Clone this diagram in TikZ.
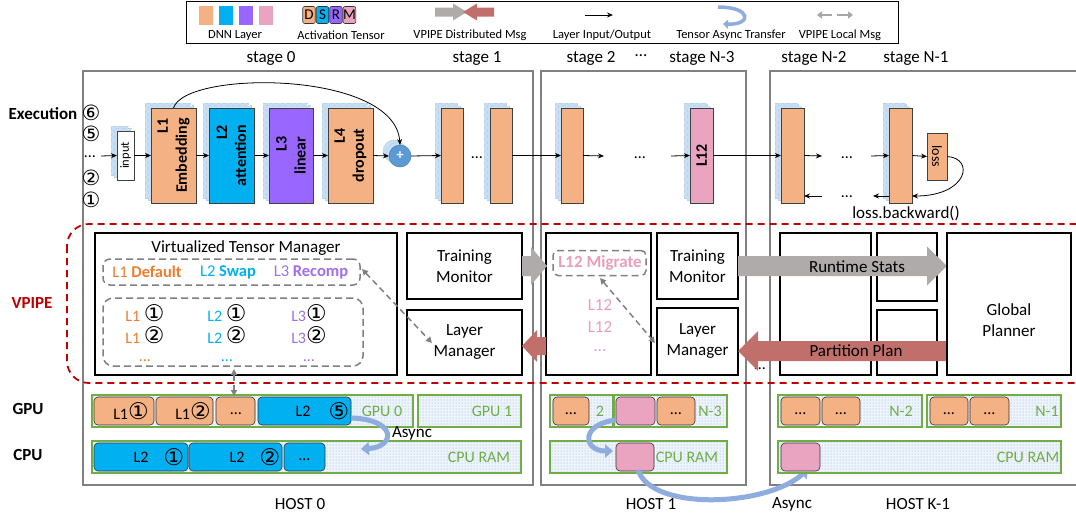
\documentclass[tikz,border=0pt]{standalone}
\usepackage{fontspec}
\setmainfont{Carlito}
\newfontfamily\sym{DejaVu Sans}
\usetikzlibrary{arrows.meta,shadows,patterns}
\definecolor{orL}{RGB}{244,177,131}
\definecolor{blL}{RGB}{0,176,240}
\definecolor{puL}{RGB}{153,102,255}
\definecolor{piL}{RGB}{234,164,192}
\definecolor{orT}{RGB}{237,125,49}
\definecolor{puT}{RGB}{158,110,240}
\definecolor{piT}{RGB}{232,158,186}
\definecolor{grA}{RGB}{175,171,171}
\definecolor{rdA}{RGB}{192,111,106}
\definecolor{shB}{RGB}{200,222,242}
\definecolor{shD}{RGB}{182,210,236}
\definecolor{plB}{RGB}{91,155,213}
\definecolor{asB}{RGB}{143,172,222}
\definecolor{grM}{RGB}{112,173,71}
\definecolor{vpR}{RGB}{192,0,0}
\definecolor{hostG}{RGB}{128,128,128}
\definecolor{dotB}{RGB}{135,170,220}
\definecolor{memB}{RGB}{238,244,251}
\newcommand\fsz[2]{\fontsize{#1}{#2}\selectfont}
\newcommand\cn[1]{{\sym\fsz{23}{24}#1}}
\newcommand\fatarrow[7]{\fill[#1] (#2,#4-#5) -- (#7,#4-#5) -- (#7,#4-#6) -- (#3,#4) -- (#7,#4+#6) -- (#7,#4+#5) -- (#2,#4+#5) -- cycle;}
\begin{document}
\begin{tikzpicture}[x=1pt,y=-1pt,
  every node/.style={inner sep=0pt,outer sep=0pt},
  lay/.style={draw=black!75,line width=0.6pt,minimum height=95pt},
  shd/.style={double copy shadow={shadow xshift=-3pt,shadow yshift=2.5pt,fill=shB,draw=shD,dashed,line width=0.4pt}},
  arr/.style={-{Stealth[length=6pt,width=5pt]},line width=0.8pt},
  bx/.style={draw,line width=1.5pt},
  tbox/.style={draw=hostG,line width=1.5pt,dash pattern=on 7pt off 4pt,rounded corners=7pt},
  lmsg/.style={draw=hostG,line width=1.5pt,dash pattern=on 6pt off 4pt,{Triangle[length=6pt,width=6pt]}-{Triangle[length=6pt,width=6pt]}},
  mem/.style={draw=grM,line width=1.6pt,preaction={fill=memB},pattern=dots,pattern color=dotB},
  blk/.style={draw=black!80,line width=0.6pt,rounded corners=4pt,minimum height=28pt},
  async/.style={draw=asB,line width=5pt,-{Triangle[length=8pt,width=13pt]}},
  lbl/.style={font=\bfseries\fsz{17}{20}},
  txt/.style={font=\fsz{17}{21},align=center},
  leg/.style={font=\fsz{12.5}{14}},
  act/.style={draw=black!80,line width=0.6pt,rounded corners=2pt,minimum width=12.5pt,minimum height=17pt,font=\fsz{15}{16}},
  gtx/.style={font=\fsz{16}{18},text=grM},
  btx/.style={font=\fsz{16}{18}}]
\useasboundingbox (0,0) rectangle (1076,517);
\clip (0,0) rectangle (1076,517);

% ---------------- legend
\draw[line width=1pt] (186,1) rectangle (898,43);
\node[fill=orL,minimum width=14pt,minimum height=19pt] (sw1) at (206,15.5) {};
\node[fill=blL,minimum width=14pt,minimum height=19pt] (sw2) at (226,15.5) {};
\node[fill=puL,minimum width=14pt,minimum height=19pt] (sw3) at (246,15.5) {};
\node[fill=piL,minimum width=14pt,minimum height=19pt] (sw4) at (266,15.5) {};
\node[leg] (tl1) at (235,35) {DNN Layer};
\node[act,fill=orL] (aD) at (309,15) {D};
\node[act,fill=blL] (aS) at (322.5,15) {S};
\node[act,fill=puL] (aR) at (336,15) {R};
\node[act,fill=piL] (aM) at (349.5,15) {M};
\node[leg] (tl2) at (341,35) {Activation Tensor};
\fatarrow{fill=grA}{435}{467}{12}{4.5}{8.5}{453}
\fatarrow{fill=rdA}{494}{463}{12}{4.5}{8.5}{477}
\node[leg] (tl3) at (470,35) {VPIPE Distributed Msg};
\coordinate (la1) at (585,15);
\coordinate (la2) at (613,15);
\draw[arr] (la1) -- (la2);
\node[leg] (tl4) at (602,35) {Layer Input/Output};
\coordinate (ai1) at (718,7);
\coordinate (ai2) at (723,24);
\draw[draw=asB,line width=3.5pt,-{Triangle[length=5pt,width=9pt]}] (ai1) .. controls (752,7) and (752,25) .. (ai2);
\node[leg] (tl5) at (731,35) {Tensor Async Transfer};
\coordinate (lm1) at (832,15);
\coordinate (lm2) at (817,15);
\coordinate (lm3) at (837,15);
\coordinate (lm4) at (853,15);
\draw[line width=2pt,draw=gray!70,-{Triangle[length=5pt,width=7pt]}] (lm1) -- (lm2);
\draw[line width=2pt,draw=gray!70,-{Triangle[length=5pt,width=7pt]}] (lm3) -- (lm4);
\node[leg] (tl6) at (840,35) {VPIPE Local Msg};

% ---------------- hosts
\draw[hostG,line width=1.2pt] (83,71) rectangle (533,485);
\draw[hostG,line width=1.2pt] (541,71) rectangle (746,485);
\draw[hostG,line width=1.2pt] (770,71) rectangle (1090,485);
\node[txt] (h0) at (300,504) {HOST 0};
\node[txt] (h1) at (651,504) {HOST 1};
\node[txt] (hk) at (918,504) {HOST K-1};
\node[txt] (asy2) at (792,504) {Async};

% stage labels
\node[txt] (st0) at (271,58) {stage 0};
\node[txt] (st1) at (477,58) {stage 1};
\node[txt] (st2) at (591,58) {stage 2};
\node[txt] (st3) at (641,56) {…};
\node[txt] (st4) at (702,58) {stage N-3};
\node[txt] (st5) at (814,58) {stage N-2};
\node[txt] (st6) at (916,58) {stage N-1};

% left labels
\node[lbl] (lex) at (43,114) {Execution};
\node[lbl,text=vpR] (lvp) at (32,303) {VPIPE};
\node[lbl] (lgpu) at (28,409) {GPU};
\node[lbl] (lcpu) at (28,455) {CPU};
\node[font=\sym\fsz{21}{22}] (n6) at (91,113) {⑥};
\node[font=\sym\fsz{21}{22}] (n5) at (91,134) {⑤};
\node[font=\fsz{16}{18}] (nd) at (90,157) {…};
\node[font=\sym\fsz{21}{22}] (n2) at (91,178) {②};
\node[font=\sym\fsz{21}{22}] (n1) at (91,200) {①};

% ---------------- execution row
\node[draw=black!75,line width=0.6pt,fill=white,minimum width=17pt,minimum height=49pt,shd] (inp) at (125.5,155.5) {};
\node[rotate=90,font=\fsz{12.5}{14}] (inpt) at (inp) {input};
\node[lay,fill=orL,minimum width=45pt,shd] (L1) at (173.5,155.5) {};
\node[rotate=90,align=right,font=\bfseries\fsz{16}{19}] (L1t) at (L1) {L1\\Embedding};
\node[lay,fill=blL,minimum width=45pt,shd] (L2) at (231.5,155.5) {};
\node[rotate=90,align=right,font=\bfseries\fsz{16}{19}] (L2t) at (L2) {L2\\attention};
\node[lay,fill=puL,minimum width=44pt,shd] (L3) at (291,155.5) {};
\node[rotate=90,align=right,font=\bfseries\fsz{16}{19}] (L3t) at (L3) {L3\\linear};
\node[lay,fill=orL,minimum width=45pt,shd] (L4) at (350.5,155.5) {};
\node[rotate=90,align=right,font=\bfseries\fsz{16}{19}] (L4t) at (L4) {L4\\dropout};
\node[circle,fill=plB,draw=plB!80!black,line width=0.5pt,minimum size=22pt,text=white,font=\bfseries\fsz{14}{16},double copy shadow={shadow xshift=-3pt,shadow yshift=2.5pt,fill=shB,draw=shD}] (plus) at (400,156) {+};
\node[lay,fill=orL,minimum width=22pt,shd] (S1a) at (452,155.5) {};
\node[font=\fsz{16}{18}] (d1) at (477,158) {…};
\node[lay,fill=orL,minimum width=22pt,shd] (S1b) at (501,155.5) {};
\node[lay,fill=orL,minimum width=22pt,shd] (S2) at (572,155.5) {};
\node[font=\fsz{16}{18}] (d2) at (640,158) {…};
\node[lay,fill=piL,minimum width=23pt,shd] (L12) at (701.5,155.5) {};
\node[rotate=90,font=\bfseries\fsz{16}{19}] (L12t) at (L12) {L12};
\node[lay,fill=orL,minimum width=23pt,shd] (N2) at (792.5,155.5) {};
\node[font=\fsz{16}{18}] (d3) at (847,158) {…};
\node[lay,fill=orL,minimum width=23pt,shd] (N1) at (900.5,155.5) {};
\node[draw=black!75,line width=0.6pt,fill=orL,minimum width=20pt,minimum height=47pt] (loss) at (937,156.5) {};
\node[rotate=-90,font=\fsz{14}{16}] (losst) at (loss) {loss};
\node[font=\fsz{16}{18}] (d4) at (847,197) {…};
\node[txt] (lb) at (906,213) {loss.backward()};

\coordinate (e0) at (101,156);
\draw[arr] (e0) -- (inp.west);
\draw[arr] (inp.east) -- (L1.west);
\draw[arr] (L1.east) -- (L2.west);
\draw[arr] (L2.east) -- (L3.west);
\draw[arr] (L3.east) -- (L4.west);
\draw[arr] (L4.east) -- (plus.west);
\draw[arr] (plus.east) -- (S1a.west);
\draw[arr] (S1b.east) -- (S2.west);
\coordinate (c1) at (604,156);
\coordinate (c2) at (671,156);
\draw[arr] (S2.east) -- (c1);
\draw[arr] (c2) -- (L12.west);
\draw[arr] (L12.east) -- (N2.west);
\coordinate (c3) at (822,156);
\coordinate (c4) at (871,156);
\draw[arr] (N2.east) -- (c3);
\draw[arr] (c4) -- (N1.west);
\draw[arr] (N1.east) -- (loss.west);
\coordinate (b1) at (912,196);
\coordinate (b2) at (889,196);
\coordinate (b3) at (873,196);
\coordinate (b4) at (822,196);
\coordinate (b5) at (804,196);
\draw[arr] (loss.east) .. controls (975,158) and (968,196) .. (b1);
\draw[arr] (b2) -- (b3);
\draw[arr] (b4) -- (b5);
\draw[arr] (L1.north) .. controls (185,70) and (395,70) .. (plus.north);

% ---------------- VPIPE region
\draw[vpR,line width=1.8pt,dash pattern=on 7pt off 5pt,rounded corners=22pt] (67,224) rectangle (1110,383);
\node[bx,minimum width=302pt,minimum height=142pt] (vtm) at (246,304) {};
\node[txt] (vtmt) at (246,248) {Virtualized Tensor Manager};
\node[tbox,minimum width=257pt,minimum height=26pt] (pol) at (231.5,272) {};
\node[font=\fsz{16.5}{18},text=orT] (p1) at (147,272) {L1 \textbf{Default}};
\node[font=\fsz{16.5}{18},text=blL] (p2) at (228,272) {L2 \textbf{Swap}};
\node[font=\fsz{16.5}{18},text=puT] (p3) at (311,272) {L3 \textbf{Recomp}};
\node[tbox,rounded corners=10pt,minimum width=260pt,minimum height=68pt] (tens) at (233,332) {};
\node[font=\fsz{16}{18}] (t11) at (145,313) {\textcolor{orT}{L1} \cn{①}};
\node[font=\fsz{16}{18}] (t12) at (145,335) {\textcolor{orT}{L1} \cn{②}};
\node[font=\fsz{16}{18},text=orT] (t13) at (145,361) {…};
\node[font=\fsz{16}{18}] (t21) at (227,313) {\textcolor{blL}{L2} \cn{①}};
\node[font=\fsz{16}{18}] (t22) at (227,335) {\textcolor{blL}{L2} \cn{②}};
\node[font=\fsz{16}{18},text=blL] (t23) at (227,361) {…};
\node[font=\fsz{16}{18}] (t31) at (309,313) {\textcolor{puT}{L3}\cn{①}};
\node[font=\fsz{16}{18}] (t32) at (309,335) {\textcolor{puT}{L3}\cn{②}};
\node[font=\fsz{16}{18},text=puT] (t33) at (309,361) {…};
\node[bx,minimum width=115pt,minimum height=66pt,txt] (tm0) at (464.5,266) {Training\\Monitor};
\node[bx,minimum width=115pt,minimum height=65pt,txt] (lm0) at (464.5,342.5) {Layer\\Manager};
\coordinate (v1) at (362,269);
\coordinate (v2) at (432,343);
\draw[lmsg] (v1) -- (v2);

\node[bx,minimum width=105pt,minimum height=142pt] (mig) at (598.5,304) {};
\node[tbox,rounded corners=5pt,minimum width=93pt,minimum height=25pt] (migb) at (599.5,263) {};
\node[font=\bfseries\fsz{17}{19},text=piT] (migt) at (600,263) {L12 Migrate};
\node[font=\fsz{17}{19},text=piT] (m1) at (600,305) {L12};
\node[font=\fsz{17}{19},text=piT] (m2) at (600,327) {L12};
\node[font=\fsz{17}{19},text=piT] (m3) at (600,351) {…};
\node[bx,minimum width=81pt,minimum height=66pt,txt] (tm1) at (697.5,266) {Training\\Monitor};
\node[bx,minimum width=81pt,minimum height=67pt,txt] (lm1b) at (697.5,341.5) {Layer\\Manager};
\coordinate (w1) at (600,278);
\coordinate (w2) at (655,343);
\draw[lmsg] (w1) -- (w2);
\node[font=\fsz{16}{18}] (dd) at (760,369) {…};

\node[bx,minimum width=91pt,minimum height=142pt] (kA) at (825.5,304) {};
\node[bx,minimum width=60pt,minimum height=68pt] (kB) at (907,267) {};
\node[bx,minimum width=60pt,minimum height=65pt] (kC) at (907,342.5) {};

% fat arrows
\fatarrow{fill=grA}{522}{547}{266}{10}{19}{531}
\fatarrow{fill=rdA}{546}{522}{346}{9}{16}{537}
\fatarrow{fill=grA}{738}{947}{266}{10}{19.5}{927}
\fatarrow{fill=rdA}{947}{738}{351}{10}{20}{758}
\node[txt] (rs) at (857,267) {Runtime Stats};
\node[txt] (pp) at (856,351) {Partition Plan};
\node[bx,minimum width=124pt,minimum height=142pt] (gp) at (1009,304) {};
\node[txt] (gpt) at (1009,320) {Global\\Planner};

% ---------------- GPU / CPU memory
\draw[mem] (92,395) rectangle (413,427);
\draw[mem] (418,395) rectangle (521,427);
\draw[mem] (92,441) rectangle (521,473);
\node[gtx] (g0t) at (382,411) {GPU 0};
\node[gtx] (g1t) at (492,411) {GPU 1};
\node[gtx] (c0t) at (479,457) {CPU RAM};
\node[blk,fill=orL,minimum width=60pt] (g01) at (124,411) {};
\node[blk,fill=orL,minimum width=57pt] (g02) at (184.5,411) {};
\node[blk,fill=orL,minimum width=39pt] (g03) at (235.5,411) {};
\node[blk,fill=blL,minimum width=93pt] (g04) at (304.5,411) {};
\node[btx] (g01t) at (131,411) {L1\cn{①}};
\node[btx] (g02t) at (193,411) {L1\cn{②}};
\node[btx] (g03t) at (236,414) {…};
\node[btx] (g04t) at (303,411) {L2};
\node[btx] (g04n) at (339,411) {\cn{⑤}};
\node[blk,fill=blL,minimum width=94pt] (c01) at (141,457) {};
\node[blk,fill=blL,minimum width=93pt] (c02) at (235.5,457) {};
\node[blk,fill=blL,minimum width=41pt] (c03) at (304.5,457) {};
\node[btx] (c01t) at (141,457) {L2};
\node[btx] (c01n) at (174,457) {\cn{①}};
\node[btx] (c02t) at (237,457) {L2};
\node[btx] (c02n) at (270,457) {\cn{②}};
\node[btx] (c03t) at (304.5,460) {…};
\coordinate (u1) at (234,369);
\coordinate (u2) at (234,396);
\draw[lmsg] (u1) -- (u2);
\coordinate (as1) at (352,418);
\coordinate (as2) at (361,449);
\draw[async] (as1) .. controls (398,420) and (395,447) .. (as2);
\node[txt] (asy1) at (412,433) {Async};

% host 1 memory
\draw[mem] (550,395) rectangle (613,427);
\draw[mem] (614,395) rectangle (727,427);
\draw[mem] (550,441) rectangle (727,473);
\node[gtx] (h1g2) at (600,411) {2};
\node[gtx] (h1g3) at (710,411) {N-3};
\node[gtx] (h1c) at (687,457) {CPU RAM};
\node[blk,fill=orL,minimum width=36pt] (h1b1) at (571,411) {};
\node[blk,fill=piL,minimum width=39pt] (h1b2) at (635.5,411) {};
\node[blk,fill=orL,minimum width=38pt] (h1b3) at (676,411) {};
\node[blk,fill=piL,minimum width=38pt] (h1b4) at (635,457) {};
\node[btx] (h1b1t) at (571,414) {…};
\node[btx] (h1b3t) at (676,414) {…};
\coordinate (as3) at (616,420);
\coordinate (as4) at (613,451);
\draw[async] (as3) .. controls (580,424) and (583,451) .. (as4);
\coordinate (as5) at (638,470);
\coordinate (as6) at (808,469);
\draw[async] (as5) .. controls (652,512) and (768,506) .. (as6);

% host K-1 memory
\draw[mem] (778,395) rectangle (922,427);
\draw[mem] (927,395) rectangle (1061,427);
\draw[mem] (778,441) rectangle (1061,473);
\node[gtx] (k2t) at (901,411) {N-2};
\node[gtx] (k1t) at (1047,411) {N-1};
\node[gtx] (kct) at (1028,457) {CPU RAM};
\node[blk,fill=orL,minimum width=39pt] (k21) at (800.5,411) {};
\node[blk,fill=orL,minimum width=38pt] (k22) at (841,411) {};
\node[blk,fill=orL,minimum width=38pt] (k11) at (949,411) {};
\node[blk,fill=orL,minimum width=39pt] (k12) at (989.5,411) {};
\node[blk,fill=piL,minimum width=39pt] (kc1) at (800.5,457) {};
\node[btx] (k21t) at (800.5,414) {…};
\node[btx] (k22t) at (841,414) {…};
\node[btx] (k11t) at (949,414) {…};
\node[btx] (k12t) at (989.5,414) {…};
\end{tikzpicture}
\end{document}
